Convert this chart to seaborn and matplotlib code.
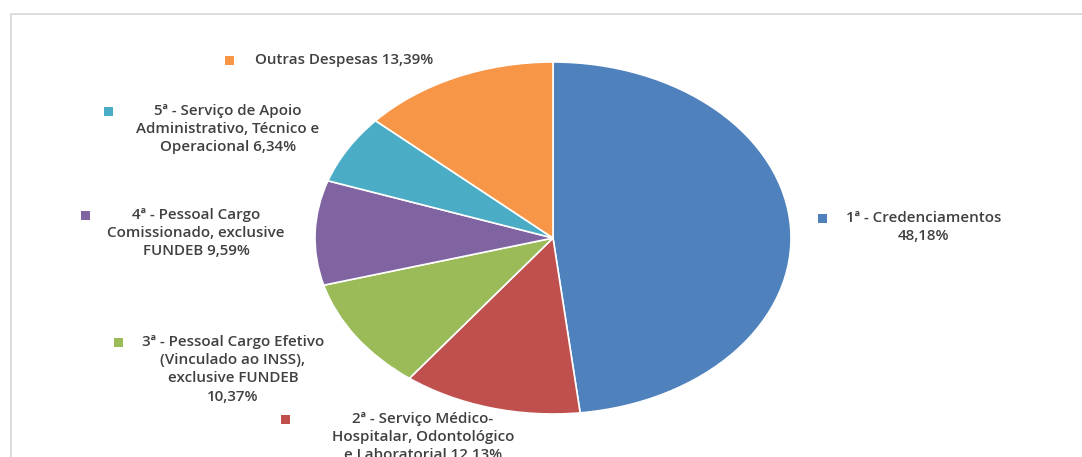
import matplotlib
matplotlib.use('Agg')
import matplotlib.pyplot as plt
import seaborn as sns

# data
categories = ['1ª - Credenciamentos',
              '2ª - Serviço Médico-Hospitalar, Odontológico e Laboratorial',
              '3ª - Pessoal Cargo Efetivo (Vinculado ao INSS), exclusive FUNDEB',
              '4ª - Pessoal Cargo Comissionado, exclusive FUNDEB',
              '5ª - Serviço de Apoio Administrativo, Técnico e Operacional',
              'Outras Despesas']
shares = [48.18, 12.13, 10.37, 9.59, 6.34, 13.39]
label_lines = [['1ª - Credenciamentos', '48,18%'],
               ['2ª - Serviço Médico-', 'Hospitalar, Odontológico', 'e Laboratorial 12,13%'],
               ['3ª - Pessoal Cargo Efetivo', '(Vinculado ao INSS),', 'exclusive FUNDEB', '10,37%'],
               ['4ª - Pessoal Cargo', 'Comissionado, exclusive', 'FUNDEB 9,59%'],
               ['5ª - Serviço de Apoio', 'Administrativo, Técnico e', 'Operacional 6,34%'],
               ['Outras Despesas 13,39%']]

sns.set_theme(style='white')
plt.rcParams['font.family'] = ['Open Sans', 'DejaVu Sans']

colors = ['#4F81BD', '#C0504D', '#9BBB59', '#8064A2', '#4BACC6', '#F79646']
W, H = 1082, 457
fig = plt.figure(figsize=(W / 100, H / 100), dpi=100)

# frame (pixel coords)
bg = fig.add_axes([0, 0, 1, 1])
bg.set_xlim(0, W)
bg.set_ylim(H, 0)
bg.axis('off')
bg.plot([11, 11, W], [H, 13.5, 13.5], color='#d9d9d9', lw=1.3)

# pie, stretched ellipse: x 315..791, y 62..414
x0, x1, y0, y1 = 315, 791, 62, 414
ax = fig.add_axes([x0 / W, 1 - y1 / H, (x1 - x0) / W, (y1 - y0) / H])
ax.pie(shares, colors=colors, startangle=90, counterclock=False, radius=1,
       wedgeprops={'edgecolor': 'white', 'linewidth': 1.2})
ax.set_aspect('auto')
ax.set_xlim(-1, 1)
ax.set_ylim(-1, 1)
ax.axis('off')

# label positions: (text centre x, first line y, key x)
label_pos = [(924, 218, 822),
             (423, 419, 285),
             (233, 342, 118),
             (196, 215, 85),
             (228, 111, 108),
             (344, 60, 229)]
for lines, (cx, cy, kx), col in zip(label_lines, label_pos, colors):
    for i, line in enumerate(lines):
        bg.text(cx, cy + i * 18.2, line, ha='center', va='center', fontsize=10.9,
                fontweight='semibold', color='#404040')
    bg.add_patch(plt.Rectangle((kx - 4.5, cy - 4.5), 9, 9, color=col, lw=0))

fig.savefig('out.png', dpi=100)
